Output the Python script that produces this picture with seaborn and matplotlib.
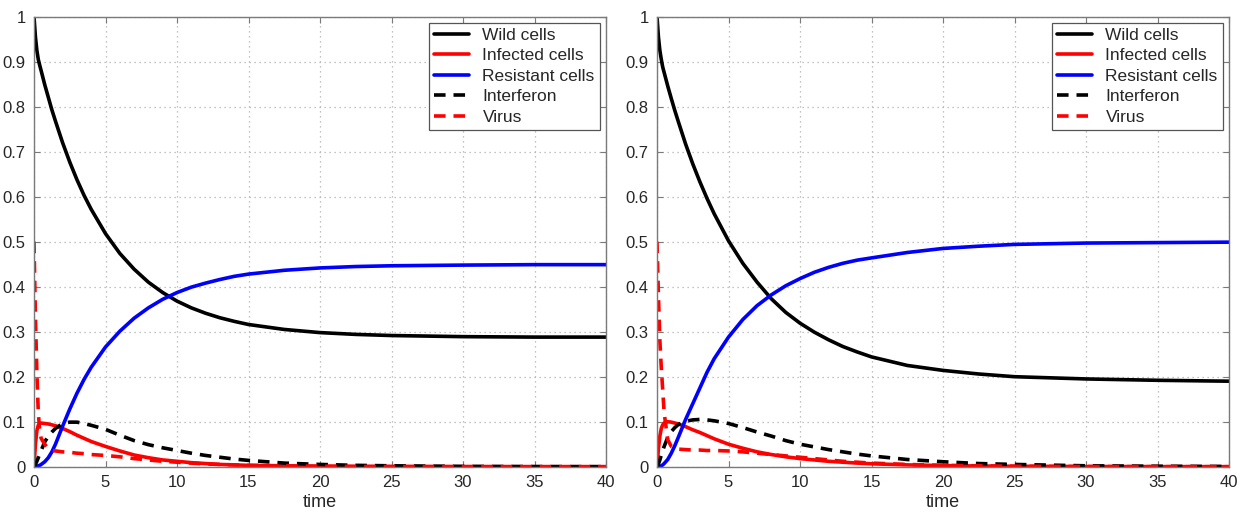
import numpy as np
import pandas as pd
import matplotlib
matplotlib.use("Agg")
import matplotlib.pyplot as plt
import seaborn as sns
from matplotlib.ticker import FuncFormatter, MultipleLocator

# time samples
t = [0, 0.1, 0.2, 0.3, 0.4, 0.5, 0.75, 1, 1.25, 1.5, 2, 2.5, 3, 3.5, 4, 5, 6, 7, 8,
     9, 10, 11, 12, 13, 14, 15, 17.5, 20, 22.5, 25, 30, 35, 40]

# left panel
wild_l = [1.0, 0.955, 0.925, 0.905, 0.892, 0.880, 0.849, 0.821, 0.793, 0.768, 0.720,
          0.677, 0.638, 0.603, 0.572, 0.518, 0.474, 0.439, 0.410, 0.387, 0.368, 0.353,
          0.341, 0.331, 0.323, 0.316, 0.305, 0.298, 0.294, 0.2915, 0.289, 0.288, 0.288]
infected_l = [0, 0.05, 0.08, 0.092, 0.096, 0.097, 0.096, 0.095, 0.093, 0.091, 0.085,
              0.078, 0.07, 0.063, 0.056, 0.045, 0.035, 0.026, 0.02, 0.015, 0.012, 0.009,
              0.007, 0.005, 0.004, 0.003, 0.0015, 0.001, 0.0005, 0.0003, 0.0001, 0, 0]
resistant_l = [0, 0.0003, 0.001, 0.002, 0.003, 0.005, 0.011, 0.02, 0.033, 0.05, 0.09,
               0.128, 0.163, 0.194, 0.221, 0.266, 0.301, 0.330, 0.353, 0.372, 0.387,
               0.399, 0.408, 0.416, 0.423, 0.428, 0.4365, 0.4417, 0.4448, 0.4465, 0.448,
               0.449, 0.449]
interferon_l = [0, 0.005, 0.012, 0.02, 0.028, 0.036, 0.055, 0.068, 0.077, 0.085, 0.096,
                0.099, 0.099, 0.096, 0.092, 0.083, 0.07, 0.058, 0.049, 0.042, 0.036, 0.03,
                0.025, 0.021, 0.017, 0.014, 0.008, 0.005, 0.003, 0.002, 0.0007, 0.0003, 0.0001]
virus_l = [0.5, 0.33, 0.21, 0.12, 0.08, 0.063, 0.05, 0.04, 0.036, 0.035, 0.033, 0.032,
           0.03, 0.029, 0.027, 0.025, 0.022, 0.018, 0.015, 0.012, 0.01, 0.008, 0.006,
           0.005, 0.004, 0.003, 0.002, 0.001, 0.0006, 0.0004, 0.0001, 0, 0]

# right panel
wild_r = [1.0, 0.955, 0.925, 0.905, 0.888, 0.876, 0.846, 0.818, 0.791, 0.766, 0.717,
          0.673, 0.633, 0.596, 0.562, 0.502, 0.452, 0.410, 0.373, 0.343, 0.319, 0.299,
          0.282, 0.267, 0.255, 0.244, 0.225, 0.214, 0.206, 0.200, 0.195, 0.192, 0.19]
infected_r = [0, 0.04, 0.068, 0.085, 0.093, 0.097, 0.1, 0.099, 0.097, 0.095, 0.089, 0.082,
              0.076, 0.069, 0.062, 0.05, 0.041, 0.033, 0.027, 0.022, 0.018, 0.015, 0.012,
              0.01, 0.008, 0.0065, 0.004, 0.0025, 0.0015, 0.001, 0.0004, 0.0002, 0.0001]
resistant_r = [0, 0.0003, 0.001, 0.002, 0.004, 0.007, 0.016, 0.03, 0.047, 0.066, 0.105,
               0.14, 0.175, 0.21, 0.24, 0.288, 0.327, 0.358, 0.382, 0.402, 0.418, 0.432,
               0.443, 0.452, 0.459, 0.464, 0.476, 0.485, 0.490, 0.494, 0.497, 0.498, 0.499]
interferon_r = [0, 0.006, 0.015, 0.026, 0.036, 0.045, 0.065, 0.078, 0.087, 0.094, 0.101,
                0.104, 0.105, 0.104, 0.102, 0.096, 0.087, 0.077, 0.068, 0.058, 0.05, 0.044,
                0.038, 0.033, 0.028, 0.024, 0.016, 0.011, 0.007, 0.005, 0.002, 0.001, 0.0005]
virus_r = [0.5, 0.38, 0.28, 0.22, 0.17, 0.12, 0.06, 0.045, 0.041, 0.039, 0.038, 0.037,
           0.037, 0.036, 0.036, 0.035, 0.033, 0.03, 0.027, 0.024, 0.021, 0.018, 0.015,
           0.012, 0.01, 0.008, 0.005, 0.003, 0.002, 0.001, 0.0004, 0.0001, 0]

labels = ['Wild cells', 'Infected cells', 'Resistant cells', 'Interferon', 'Virus']
colors = ['black', '#ff0000', '#0000ff', 'black', '#ff0000']
styles = ['-', '-', '-', (0, (3.2, 2.2)), (0, (3.2, 2.2))]

panels = [
    [wild_l, infected_l, resistant_l, interferon_l, virus_l],
    [wild_r, infected_r, resistant_r, interferon_r, virus_r],
]

sns.set_style("ticks")
plt.rcParams['font.family'] = ['Liberation Sans', 'DejaVu Sans']

fig = plt.figure(figsize=(12.55, 5.12), dpi=100)
axes = [fig.add_axes([34 / 1255, 45.3 / 512, 572 / 1255, 450 / 512]),
        fig.add_axes([657 / 1255, 45.3 / 512, 572 / 1255, 450 / 512])]

fmt = FuncFormatter(lambda v, p: f'{v:g}')

for ax, series in zip(axes, panels):
    for vals, lab, col, ls in zip(series, labels, colors, styles):
        sns.lineplot(x=t, y=vals, ax=ax, color=col, linewidth=2.6,
                     linestyle=ls, label=lab, errorbar=None)
    ax.set_xlim(0, 40)
    ax.set_ylim(0, 1)
    ax.xaxis.set_major_locator(MultipleLocator(5))
    ax.yaxis.set_major_locator(MultipleLocator(0.1))
    ax.xaxis.set_major_formatter(fmt)
    ax.yaxis.set_major_formatter(fmt)
    ax.grid(True, color='#b0b0b0', linestyle=(0, (1, 3)), linewidth=0.9)
    ax.set_axisbelow(True)
    for sp in ax.spines.values():
        sp.set_visible(True)
        sp.set_color('#7a7a7a')
        sp.set_linewidth(1.0)
    ax.tick_params(direction='in', length=4, width=0.8, color='#7a7a7a',
                   top=True, right=True, labelsize=12, pad=6)
    ax.set_xlabel('time', fontsize=13, labelpad=3)
    ax.set_ylabel('')
    leg = ax.legend(loc='upper right', fontsize=12.5, frameon=True, fancybox=False,
                    edgecolor='#555555', framealpha=1, borderaxespad=0.35,
                    handlelength=2.0, handletextpad=0.8, labelspacing=0.3,
                    borderpad=0.3)
    leg.get_frame().set_linewidth(0.9)

fig.savefig('out.png', dpi=100, facecolor='white')
